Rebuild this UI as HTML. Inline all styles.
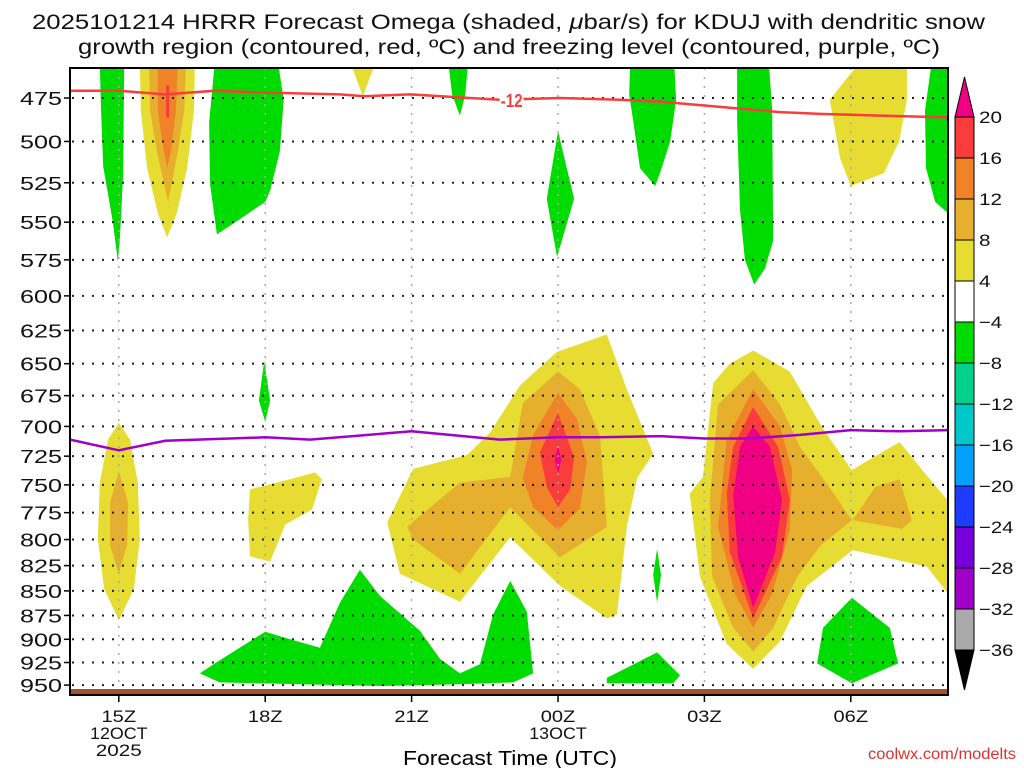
<!DOCTYPE html>
<html><head><meta charset="utf-8"><title>HRRR Omega KDUJ</title>
<style>
html,body{margin:0;padding:0;background:#fff;}
svg{display:block;font-family:"Liberation Sans",sans-serif;}
</style></head>
<body>
<svg id="chart" width="1024" height="768" viewBox="0 0 1024 768" xmlns="http://www.w3.org/2000/svg">
<rect x="0" y="0" width="1024" height="768" fill="#fff"/>
<text x="32" y="29" font-size="21" textLength="953" lengthAdjust="spacingAndGlyphs" fill="#111">2025101214 HRRR Forecast Omega (shaded, <tspan font-style="italic">μ</tspan>bar/s) for KDUJ with dendritic snow</text>
<text x="78" y="54" font-size="21" textLength="862" lengthAdjust="spacingAndGlyphs" fill="#111">growth region (contoured, red, ºC) and freezing level (contoured, purple, ºC)</text>
<defs><clipPath id="plotclip"><rect x="70" y="68" width="878" height="621"/></clipPath></defs>
<g id="shades" clip-path="url(#plotclip)"></g>
<g id="grid"></g>
<g id="lines" clip-path="url(#plotclip)"></g>
<rect x="70" y="689" width="878" height="6" fill="#a0522d"/>
<rect x="70" y="68" width="878" height="627" fill="none" stroke="#000" stroke-width="2"/>
<g id="yaxis"></g>
<g id="xaxis"></g>
<text x="403" y="765" font-size="20" textLength="214" lengthAdjust="spacingAndGlyphs" fill="#000">Forecast Time (UTC)</text>
<g id="cbar"></g>
<text x="868" y="759" font-size="16" textLength="148" lengthAdjust="spacingAndGlyphs" fill="#e03030">coolwx.com/modelts</text>
</svg>
<script>
// ---- data ----
const pressureTicks = [475,500,525,550,575,600,625,650,675,700,725,750,775,800,825,850,875,900,925,950];
const timeTickHours = [1,4,7,10,13,16];
const timeTickLabels = ["15Z","18Z","21Z","00Z","03Z","06Z"];
const timeTickDates = ["12OCT","","","13OCT","",""];
const timeTickYears = ["2025","","","","",""];
const cbarLabels = ["20","16","12","8","4","\u22124","\u22128","\u221212","\u221216","\u221220","\u221224","\u221228","\u221232","\u221236"];
const cbarColors = ["#fa3c3c","#f08228","#e6af2d","#e6dc32","#ffffff","#00dc00","#00d28c","#00c8c8","#00a0ff","#1e3cff","#7800dc","#a000c8","#aaaaaa"];
const cbarTop = "#f00082", cbarBottom = "#000000";
// shaded omega regions: [hour since 14Z, hPa]
const shadeLevels = ["green","green","yellow","lorange","orange","red","green","green","yellow","green","green","yellow","green",
 "yellow","lorange","orange","red","magenta","green","green","green","green","yellow","lorange","yellow","green",
 "yellow","lorange","lorange","orange","red","magenta"];
const shadePolys = [
 [[0.61,455],[1.11,455],[1.09,519],[1.02,562],[0.98,576],[0.88,550],[0.68,515],[0.63,476]],
 [[2.97,455],[4.26,455],[4.38,476],[4.3,506],[4.1,530],[4.0,537],[3.48,548],[3.01,558],[2.87,526],[2.85,489]],
 [[1.43,455],[2.56,455],[2.54,482],[2.4,516],[2.19,544],[1.99,560],[1.8,544],[1.58,516],[1.45,482]],
 [[1.62,455],[2.38,455],[2.34,482],[2.21,506],[2.01,537],[1.78,506],[1.64,482]],
 [[1.8,455],[2.21,455],[2.17,482],[2.07,506],[1.99,516],[1.89,500],[1.8,482]],
 [[1.97,468],[2.03,468],[2.03,486],[1.97,486]],
 [[7.75,455],[8.16,455],[8.1,473],[7.99,485],[7.83,473]],
 [[11.48,455],[12.38,455],[12.42,476],[12.3,500],[12.09,519],[11.99,527],[11.68,516],[11.54,488],[11.46,473]],
 [[5.74,455],[6.27,455],[6.0,474]],
 [[10.0,494],[10.33,535],[9.98,573],[9.77,535]],
 [[13.67,455],[14.32,455],[14.39,482],[14.41,562],[14.24,581],[14.02,592],[13.83,575],[13.73,542],[13.67,488]],
 [[16.19,455],[17.15,455],[17.15,476],[16.99,500],[16.68,519],[16.0,527],[15.78,510],[15.57,476]],
 [[17.66,455],[18.2,455],[18.2,550],[17.73,537],[17.54,516],[17.52,482]],
 [[6.5,784],[7.03,736],[8.14,724],[8.61,705],[9.22,667],[9.98,641],[11.0,628],[11.41,670],[11.95,723],[11.62,744],[11.41,788],[11.21,874],[11.0,878],[10.04,845],[9.02,798],[7.99,861],[6.76,833]],
 [[6.91,788],[7.99,748],[9.02,743],[9.28,681],[10.0,656],[10.45,670],[10.86,708],[11.0,788],[10.04,817],[9.02,770],[7.99,833],[7.03,800]],
 [[10.0,673],[10.39,694],[10.59,730],[10.45,771],[10.0,791],[9.49,770],[9.28,744],[9.49,707]],
 [[10.0,689],[10.33,726],[10.25,754],[10.0,770],[9.77,752],[9.63,722]],
 [[10.0,716],[10.07,728],[10.0,740],[9.93,728]],
 [[2.66,937],[2.97,926],[4.0,892],[4.51,900],[5.12,909],[5.53,862],[5.94,829],[6.35,855],[7.17,891],[7.58,921],[7.99,937],[8.4,927],[8.67,874],[9.02,840],[9.36,871],[9.49,937],[9.08,947],[7.99,949],[6.35,951],[4.71,949],[3.07,947]],
 [[11.0,942],[12.03,914],[12.5,939],[12.36,948],[11.0,948]],
 [[12.03,809],[12.11,834],[12.03,862],[11.95,834]],
 [[3.98,648],[4.1,679],[4.0,696],[3.87,679]],
 [[1,697],[1.23,711],[1.39,748],[1.43,800],[1.31,848],[1,880],[0.7,848],[0.57,800],[0.61,748],[0.78,711]],
 [[1,738],[1.19,766],[1.17,805],[1,833],[0.82,805],[0.82,766]],
 [[3.69,754],[4.51,745],[5.02,739],[5.16,745],[4.96,772],[4.41,786],[4.1,821],[3.69,816],[3.65,781]],
 [[16.02,857],[16.8,888],[16.97,926],[16.02,948],[15.31,926],[15.43,888]],
 [[14.0,640],[14.75,656],[15.43,702],[16.02,737],[17.0,713],[17.56,742],[18.2,775],[18.2,866],[17.56,826],[16.04,810],[15.1,845],[14.55,902],[14.0,932],[13.46,905],[12.91,836],[12.7,758],[12.97,743],[13.18,665],[13.52,650]],
 [[14,655],[14.55,682],[14.96,717],[15.64,757],[16.02,782],[15.37,806],[14.9,836],[14.41,888],[14.0,913],[13.59,888],[13.16,836],[13.11,763],[13.28,682]],
 [[16.5,752],[17.0,745],[17.25,782],[17.05,790],[16.04,782]],
 [[14,670],[14.55,700],[14.8,737],[14.75,791],[14.39,853],[14.0,888],[13.63,853],[13.28,788],[13.46,711]],
 [[14,684],[14.51,717],[14.75,763],[14.59,816],[14,878],[13.52,812],[13.46,758],[13.59,717]],
 [[14,700],[14.34,717],[14.59,763],[14.45,812],[14,867],[13.69,817],[13.59,760],[13.73,717]]
];
// -12C dendritic line and 0C freezing line: pressure by hour
const dendriticHours = [0,1.02,1.95,2.97,4.0,5.53,6.04,6.97,8.2,8.81,10.04,11.27,12.09,12.91,13.73,14.55,15.37,16.6,18.0];
const dendriticP = [471,471,473,471,472,473,474,473,475,476,475,476,477,479,481,483,484,485,486];
const freezingHours = [0,1.0,1.95,4.0,4.92,7.0,8.81,10.0,10.86,12.09,13.0,13.93,14.96,16.0,17.0,18.0];
const freezingP = [711,720,712,709,711,704,711,709,709,708,710,710,707,703,704,703];
const dendriticLabelHour = 9.05;

// ---- axes ----
const X = h => 70 + 48.8*h;
const Y = p => 98 + 847*Math.log(p/475);
const NS = "http://www.w3.org/2000/svg";
const fills = {green:"#00dc00",yellow:"#e6dc32",lorange:"#e6af2d",orange:"#f08228",red:"#fa3c3c",magenta:"#f00082"};
function mk(tag, attrs, parent){const e=document.createElementNS(NS,tag);for(const k in attrs)e.setAttribute(k,attrs[k]);parent.appendChild(e);return e;}

const shades=document.getElementById('shades');
shadePolys.forEach((poly,i)=>{
  const e=mk('polygon',{points:poly.map(q=>X(q[0]).toFixed(1)+','+Y(q[1]).toFixed(1)).join(' '),fill:fills[shadeLevels[i]]},shades);
  
  
});

const grid=document.getElementById('grid');
pressureTicks.forEach(p=>{
  const e=mk('line',{x1:72,x2:948,y1:Y(p),y2:Y(p),stroke:'#222','stroke-width':2,'stroke-dasharray':'2 8'},grid);
  
  
});
timeTickHours.forEach((h,i)=>{
  const e=mk('line',{x1:X(h),x2:X(h),y1:68,y2:689,stroke:'#aaa','stroke-width':1.5,'stroke-dasharray':'2 7'},grid);
  
  
});

const lines=document.getElementById('lines');
function path(hs,ps){return hs.map((h,i)=>(i?'L':'M')+X(h).toFixed(1)+','+Y(ps[i]).toFixed(1)).join(' ');}
let e1=mk('path',{d:path(dendriticHours,dendriticP),fill:'none',stroke:'#fa3c3c','stroke-width':2.5},lines);


let e2=mk('path',{d:path(freezingHours,freezingP),fill:'none',stroke:'#a000c8','stroke-width':2.5},lines);


let lx=X(dendriticLabelHour), ly=Y(476);
let lb=mk('rect',{x:lx-12,y:ly-9,width:24,height:17,fill:'#fff'},lines);


let lt=mk('text',{x:lx-11,y:ly+7,'font-size':18,'font-weight':'bold',textLength:22,lengthAdjust:'spacingAndGlyphs',fill:'#fa3c3c'},lines);
lt.textContent='-12';



const ya=document.getElementById('yaxis');
pressureTicks.forEach(p=>{
  const t=mk('text',{x:20,y:Y(p)+7,'font-size':18,textLength:42,lengthAdjust:'spacingAndGlyphs',fill:'#111'},ya);
  t.textContent=p;
  
  
  const k=mk('line',{x1:64,x2:70,y1:Y(p),y2:Y(p),stroke:'#000','stroke-width':1.5},ya);
  
  
});
const xa=document.getElementById('xaxis');
const charW = 11.5;
timeTickHours.forEach((h,i)=>{
  const k=mk('line',{x1:X(h),x2:X(h),y1:695,y2:702,stroke:'#000','stroke-width':1.5},xa);
  
  
  [timeTickLabels[i],timeTickDates[i],timeTickYears[i]].forEach((s,j)=>{
    if(!s)return;
    const w=s.length*charW;
    const t=mk('text',{x:X(h)-w/2,y:722+j*17,'font-size':17,textLength:w,lengthAdjust:'spacingAndGlyphs',fill:'#111'},xa);
    t.textContent=s;
    
    
  });
});

const cb=document.getElementById('cbar');
const cbX=955, cbW=19, cbY0=117, cbStep=41;
let tt=mk('polygon',{points:`${cbX},${cbY0} ${cbX+cbW},${cbY0} ${cbX+cbW/2},77`,fill:cbarTop,stroke:'#000','stroke-width':1},cb);


cbarColors.forEach((c,i)=>{
  const r=mk('rect',{x:cbX,y:cbY0+i*cbStep,width:cbW,height:cbStep,fill:c,stroke:'#000','stroke-width':1},cb);
  
  
});
const yb=cbY0+cbarColors.length*cbStep;
let bt=mk('polygon',{points:`${cbX},${yb} ${cbX+cbW},${yb} ${cbX+cbW/2},${yb+40}`,fill:cbarBottom,stroke:'#000','stroke-width':1},cb);


cbarLabels.forEach((s,i)=>{
  const t=mk('text',{x:979,y:cbY0+i*cbStep+6,'font-size':17,textLength:s.length*11.5,lengthAdjust:'spacingAndGlyphs',fill:'#111'},cb);
  t.textContent=s;
  
  
});
</script>
</body></html>
